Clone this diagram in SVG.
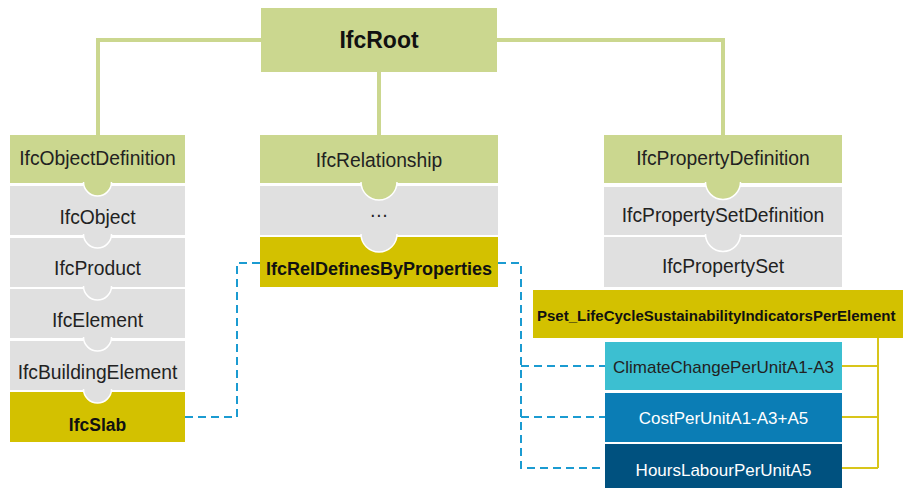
<svg xmlns="http://www.w3.org/2000/svg" width="903" height="488" viewBox="0 0 903 488">
<style>
.g{fill:#cbd78f}
.gr{fill:#e0e0e0}
.y{fill:#d3c100}
.tab{stroke:#fff;stroke-width:1.5}
.t{font-family:"Liberation Sans",Arial,sans-serif;font-size:19.3px;fill:#222;text-anchor:middle}
.b{font-weight:bold;fill:#111}
.w{fill:#fff}
.gl{fill:none;stroke:#cbd78f;stroke-width:4}
.dl{fill:none;stroke:#1b9bd1;stroke-width:2;stroke-dasharray:8 5}
.yl{fill:none;stroke:#d8c51a;stroke-width:2}
</style>
<rect width="903" height="488" fill="#fff"/>
<g id="connectors">
<path class="gl" d="M98,135 V40 H261"/>
<path class="gl" d="M379,72 V135"/>
<path class="gl" d="M497,40 H723 V135"/>
<path class="dl" d="M185,417 H237 V263 H260"/>
<path class="dl" d="M498,263 H521 V468 H605"/>
<path class="dl" d="M521,366 H605"/>
<path class="dl" d="M521,417 H605"/>
<path class="yl" d="M878,338 V468"/>
<path class="yl" d="M842,366 H878 M842,417 H878 M842,468 H878"/>
</g>
<g id="IfcRoot">
<rect class="g" x="261" y="8" width="236" height="64"/>
<text class="t b" x="379" y="48" style="font-size:23px">IfcRoot</text>
</g>
<g id="IfcObjectDefinition">
<rect class="g" x="10" y="135" width="175" height="48"/>
<text class="t" x="97.5" y="165">IfcObjectDefinition</text>
</g>
<g id="IfcObject">
<rect class="gr" x="10" y="186" width="175" height="49"/>
<path class="g tab" d="M83.5,182 A14,14 0 0 0 111.5,182"/>
<text class="t" x="97.5" y="224">IfcObject</text>
</g>
<g id="IfcProduct">
<rect class="gr" x="10" y="238" width="175" height="49"/>
<path class="gr tab" d="M83.5,234 A14,14 0 0 0 111.5,234"/>
<text class="t" x="97.5" y="275">IfcProduct</text>
</g>
<g id="IfcElement">
<rect class="gr" x="10" y="289" width="175" height="49"/>
<path class="gr tab" d="M83.5,286 A14,14 0 0 0 111.5,286"/>
<text class="t" x="97.5" y="327">IfcElement</text>
</g>
<g id="IfcBuildingElement">
<rect class="gr" x="10" y="341" width="175" height="49"/>
<path class="gr tab" d="M83.5,337 A14,14 0 0 0 111.5,337"/>
<text class="t" x="97.5" y="379">IfcBuildingElement</text>
</g>
<g id="IfcSlab">
<rect class="y" x="10" y="392" width="175" height="50"/>
<path class="gr tab" d="M83.5,389 A14,14 0 0 0 111.5,389"/>
<text class="t b" x="97.5" y="431" style="font-size:17.5px">IfcSlab</text>
</g>
<g id="IfcRelationship">
<rect class="g" x="260" y="135" width="238" height="48"/>
<text class="t" x="379" y="167">IfcRelationship</text>
</g>
<g id="Ellipsis">
<rect class="gr" x="260" y="186" width="238" height="49"/>
<path class="g tab" d="M361,182 A18,18 0 0 0 397,182"/>
<text class="t" x="379" y="217">…</text>
</g>
<g id="IfcRelDefinesByProperties">
<rect class="y" x="260" y="237" width="238" height="50"/>
<path class="gr tab" d="M361,234 A18,18 0 0 0 397,234"/>
<text class="t b" x="379" y="275" style="font-size:18px">IfcRelDefinesByProperties</text>
</g>
<g id="IfcPropertyDefinition">
<rect class="g" x="604" y="135" width="238" height="48"/>
<text class="t" x="723" y="165">IfcPropertyDefinition</text>
</g>
<g id="IfcPropertySetDefinition">
<rect class="gr" x="604" y="187" width="238" height="48"/>
<path class="g tab" d="M705.5,182 A17.5,17.5 0 0 0 740.5,182"/>
<text class="t" x="723" y="222">IfcPropertySetDefinition</text>
</g>
<g id="IfcPropertySet">
<rect class="gr" x="604" y="237" width="238" height="50"/>
<path class="gr tab" d="M705.5,234 A17.5,17.5 0 0 0 740.5,234"/>
<text class="t" x="723" y="273">IfcPropertySet</text>
</g>
<g id="Pset_LifeCycleSustainabilityIndicatorsPerElement">
<rect class="y" x="533" y="290" width="380" height="48"/>
<text class="t b" x="537" y="321" style="font-size:15px;text-anchor:start">Pset_LifeCycleSustainabilityIndicatorsPerElement</text>
</g>
<g id="ClimateChangePerUnitA1-A3">
<rect x="605" y="342" width="237" height="48" fill="#3cbfd1"/>
<text class="t" x="723.5" y="373" style="font-size:17px">ClimateChangePerUnitA1-A3</text>
</g>
<g id="CostPerUnitA1-A3_A5">
<rect x="605" y="393" width="237" height="49" fill="#0b7db5"/>
<text class="t w" x="723.5" y="424" style="font-size:17px">CostPerUnitA1-A3+A5</text>
</g>
<g id="HoursLabourPerUnitA5">
<rect x="605" y="444" width="237" height="46" fill="#00517f"/>
<text class="t w" x="723.5" y="476" style="font-size:17px">HoursLabourPerUnitA5</text>
</g>
</svg>
